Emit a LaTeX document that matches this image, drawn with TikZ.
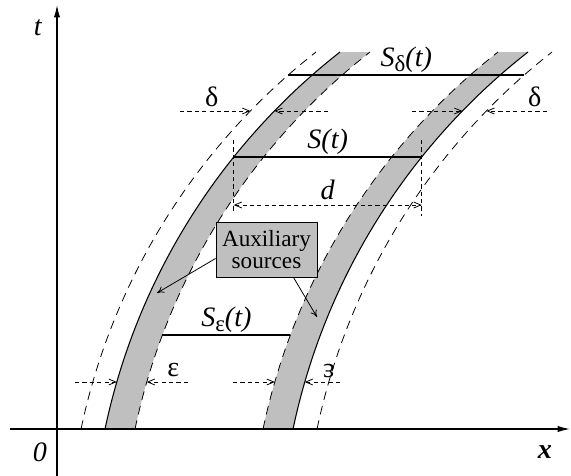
\documentclass[tikz,border=0pt]{standalone}
\usepackage{fontspec}
\setmainfont{Liberation Serif}
\usetikzlibrary{arrows.meta}

\newcommand*{\xmin}{-0.94}
\newcommand*{\xmax}{10.26}
\newcommand*{\ymin}{-0.94}
\newcommand*{\ymax}{8.48}
\newcommand*{\arcrad}{12.966}
\newcommand*{\angbot}{168.10}
\newcommand*{\angtop}{128.03}
\newcommand*{\epsw}{0.6}
\newcommand*{\delw}{0.48}
\newcommand*{\srcw}{3.76}
\newcommand*{\lowsub}[1]{\raisebox{-0.35ex}{\fontsize{13}{13}\selectfont #1}}

\begin{document}
\begin{tikzpicture}
[
	font=\fontsize{16}{18}\selectfont,
	>={Straight Barb[length=4pt,width=3.4pt]},
	axis/.style={line width=0.6pt,-{Latex[length=7pt,width=3.5pt]}},
	strip/.style={fill=gray!50},
	rim/.style={line width=0.6pt},
	shifted/.style={line width=0.45pt,dash pattern=on 5pt off 3.5pt},
	dimline/.style={line width=0.45pt,dash pattern=on 2.4pt off 1.8pt},
	slice/.style={line width=1.4pt},
	txt/.style={inner sep=0pt},
	pointer/.style={line width=0.45pt,-{To[length=4pt,width=4pt]}},
	declare function={xarc(\y)=13.648-sqrt(\arcrad*\arcrad-(\y+2.674)^2);}
]
	\useasboundingbox (-1.14,-0.94) rectangle (10.28,8.58);

	% auxiliary strips
	\fill[strip] ({xarc(0)},0) arc[start angle=\angbot,end angle=\angtop,radius=\arcrad]
	  -- ++(\epsw,0) arc[start angle=\angtop,end angle=\angbot,radius=\arcrad] -- cycle;
	\fill[strip] ({xarc(0)+\srcw-\epsw},0) arc[start angle=\angbot,end angle=\angtop,radius=\arcrad]
	  -- ++(\epsw,0) arc[start angle=\angtop,end angle=\angbot,radius=\arcrad] -- cycle;

	% axes
	\draw[axis] (\xmin,0) -- (\xmax,0);
	\draw[axis] (0,\ymin) -- (0,\ymax);
	\node (tlab) at (-0.38,8.02) {\textit{t}};
	\node (olab) at (-0.34,-0.46) {\textit{0}};
	\node (xlab) at (9.76,-0.46) {\textbf{\textit{x}}};

	% boundaries of S(t)
	\foreach \dx in {0,\srcw} {
		\draw[rim] ({xarc(0)+\dx},0) arc[start angle=\angbot,end angle=\angtop,radius=\arcrad];
	}
	\foreach \dx in {0-\delw,\epsw,\srcw-\epsw,\srcw+\delw} {
		\draw[shifted] ({xarc(0)+\dx},0) arc[start angle=\angbot,end angle=\angtop,radius=\arcrad];
	}

	% slices
	\coordinate (sda) at ({xarc(7.08)-\delw},7.08);
	\coordinate (sdb) at ({xarc(7.08)+\srcw+\delw},7.08);
	\draw[slice] (sda) -- (sdb) node[midway,above=0.5pt,txt] (sdlab) {\textit{S}\lowsub{δ}\textit{(t)}};

	\coordinate (sa) at ({xarc(5.44)},5.44);
	\coordinate (sb) at ({xarc(5.44)+\srcw},5.44);
	\draw[slice] (sa) -- (sb) node[midway,above=0.5pt,txt] (slab) {\textit{S(t)}};

	\coordinate (sea) at ({xarc(1.88)+\epsw},1.88);
	\coordinate (seb) at ({xarc(1.88)+\srcw-\epsw},1.88);
	\draw[slice] (sea) -- (seb) node[midway,above=0.5pt,txt] (selab) {\textit{S}\lowsub{ε}\textit{(t)}};

	% width d
	\coordinate (dvla) at ({xarc(5.44)},5.78);
	\coordinate (dvlb) at ({xarc(5.44)},4.34);
	\coordinate (dvra) at ({xarc(5.44)+\srcw},5.78);
	\coordinate (dvrb) at ({xarc(5.44)+\srcw},4.26);
	\draw[dimline] (dvla) -- (dvlb);
	\draw[dimline] (dvra) -- (dvrb);
	\coordinate (dda) at ({xarc(5.44)},4.48);
	\coordinate (ddb) at ({xarc(5.44)+\srcw},4.48);
	\draw[dimline,<->] (dda) -- (ddb) node[midway,above=2.8pt,txt] (dlab) {\textit{d}};

	% delta
	\coordinate (dla) at (2.46,6.36);
	\coordinate (dlb) at ({xarc(6.36)-\delw},6.36);
	\coordinate (dlc) at (5.42,6.36);
	\coordinate (dld) at ({xarc(6.36)},6.36);
	\draw[dimline,->] (dla) -- (dlb) node[pos=0.45,above=2.3pt,txt] (dellab) {δ};
	\draw[dimline,->] (dlc) -- (dld);
	\coordinate (dre) at (7.1,6.36);
	\coordinate (drf) at ({xarc(6.36)+\srcw},6.36);
	\coordinate (drg) at (9.8,6.36);
	\coordinate (drh) at ({xarc(6.36)+\srcw+\delw},6.36);
	\draw[dimline,->] (dre) -- (drf);
	\draw[dimline,->] (drg) -- (drh) node[pos=0.2,above=2.3pt,txt] (delrab) {δ};

	% epsilon
	\coordinate (ela) at (0.36,0.94);
	\coordinate (elb) at ({xarc(0.94)},0.94);
	\coordinate (elc) at (2.62,0.94);
	\coordinate (eld) at ({xarc(0.94)+\epsw},0.94);
	\draw[dimline,->] (ela) -- (elb);
	\draw[dimline,->] (elc) -- (eld) node[pos=0.36,above=2.5pt,txt] (epslab) {ε};
	\coordinate (ere) at (3.52,0.94);
	\coordinate (erf) at ({xarc(0.94)+\srcw-\epsw},0.94);
	\coordinate (erg) at (5.66,0.94);
	\coordinate (erh) at ({xarc(0.94)+\srcw},0.94);
	\draw[dimline,->] (ere) -- (erf);
	\draw[dimline,->] (erg) -- (erh);
	\node[rotate=180,txt] (epsrab) at (5.44,1.16) {ε};

	% auxiliary sources
	\node[draw,line width=0.5pt,fill=gray!50,align=center,inner sep=1pt,
	  minimum width=2.02cm,minimum height=1.1cm,
	  font=\fontsize{13.2}{12.8}\selectfont] (aux) at (4.19,3.59) {Auxiliary\\sources};
	\coordinate (auxl) at (2.0,2.72);
	\coordinate (auxr) at (5.2,2.24);
	\draw[pointer] (aux.190) -- (auxl);
	\draw[pointer] (aux.314) -- (auxr);

\end{tikzpicture}
\end{document}
